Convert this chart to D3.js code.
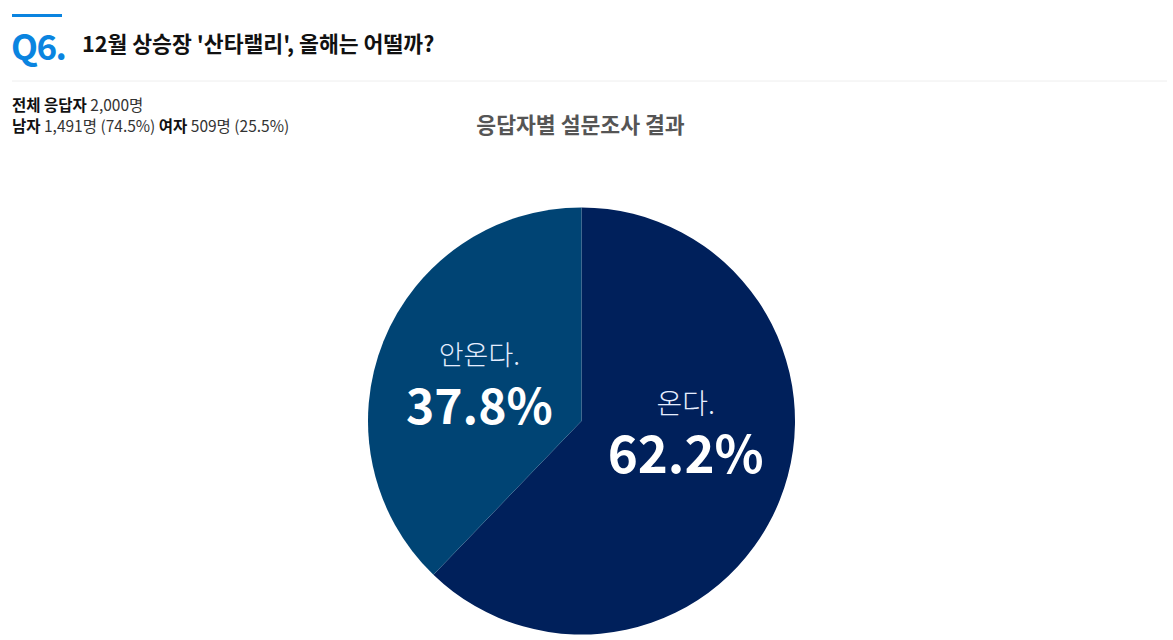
<!DOCTYPE html>
<html><head><meta charset="utf-8">
<script src="https://cdn.jsdelivr.net/npm/d3@7"></script>
<style>
html,body{margin:0;padding:0;background:#fff;}
text{font-family:"Noto Sans CJK KR","Noto Sans",sans-serif;}
</style></head>
<body>
<svg id="c" width="1173" height="640"></svg>
<script>
const categories = ["온다.", "안온다."];
const values = [62.2, 37.8];
const valueLabels = ["62.2%", "37.8%"];
const colors = ["#00205b", "#004474"];
const questionNo = "Q6.";
const titleText = "12월 상승장 '산타랠리', 올해는 어떨까?";
const subtitleText = "응답자별 설문조사 결과";
const infoLine1 = [["전체 응답자", true], [" 2,000명", false]];
const infoLine2 = [["남자", true], [" 1,491명 (74.5%) ", false], ["여자", true], [" 509명 (25.5%)", false]];

const svg = d3.select("#c");
// header
svg.append("rect").attr("x",12).attr("y",14).attr("width",50).attr("height",3).attr("fill","#0a84e0");
svg.append("text").attr("x",11).attr("y",60).attr("font-size",35).attr("font-weight",700)
  .attr("letter-spacing",-1.5).attr("fill","#0a84e0").text(questionNo);
svg.append("text").attr("x",82).attr("y",52).attr("font-size",21.6).attr("font-weight",700)
  .attr("fill","#111").text(titleText);
svg.append("line").attr("x1",12).attr("x2",1167).attr("y1",81).attr("y2",81)
  .attr("stroke","#eeeeee").attr("stroke-width",1);

function infoLine(parts, y){
  const t = svg.append("text").attr("x",12).attr("y",y).attr("font-size",15.5).attr("fill","#222");
  parts.forEach(([s,b])=>{
    t.append("tspan").attr("font-weight",b?700:400).attr("fill",b?"#111":"#333").text(s);
  });
}
infoLine(infoLine1,111);
infoLine(infoLine2,132);

svg.append("text").attr("x",580.5).attr("y",133).attr("text-anchor","middle")
  .attr("font-size",21.6).attr("font-weight",700).attr("fill","#555").text(subtitleText);

// pie
const cx = 581.5, cy = 421, R = 213.5;
const g = svg.append("g").attr("transform",`translate(${cx},${cy})`);
const pie = d3.pie().sort(null).value(d=>d.v);
const data = categories.map((c,i)=>({c, v:values[i], lab:valueLabels[i], col:colors[i]}));
const arcs = pie(data);
const arc = d3.arc().innerRadius(0).outerRadius(R);
g.selectAll("path").data(arcs).enter().append("path")
  .attr("d",arc).attr("fill",d=>d.data.col);

const labelArc = d3.arc().innerRadius(0).outerRadius(216);
const nameSize = [28, 27];
const valSize = [51, 48];
const nudge = [[4,-29],[-2,2]];
arcs.forEach((a,i)=>{
  const [x,y] = labelArc.centroid(a);
  const lx = x + nudge[i][0], ly = y + nudge[i][1];
  g.append("text").attr("x",lx).attr("y",ly-18).attr("text-anchor","middle")
    .attr("font-size",nameSize[i]).attr("font-weight",300).attr("fill","#e6eeff").text(a.data.c);
  g.append("text").attr("x",lx).attr("y",ly+41).attr("text-anchor","middle")
    .attr("font-size",valSize[i]).attr("font-weight",700).attr("fill","#ffffff").text(a.data.lab);
});
</script>
</body></html>
